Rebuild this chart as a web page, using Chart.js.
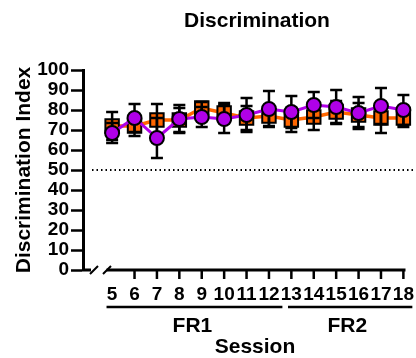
<!DOCTYPE html>
<html>
<head>
<meta charset="utf-8">
<script src="https://cdn.jsdelivr.net/npm/chart.js@4"></script>
<style>
  html, body { margin: 0; padding: 0; background: #fff; }
  #wrap { width: 416px; height: 358px; }
</style>
</head>
<body>
<div id="wrap"><canvas id="chart" width="416" height="358"></canvas></div>
<script>
const sessions = [5, 6, 7, 8, 9, 10, 11, 12, 13, 14, 15, 16, 17, 18];
const orangeMean = [72, 72, 75, 75, 81, 78.5, 76, 77, 75, 76.5, 79, 77.5, 76, 76];
const orangeErr = [7, 5, 8, 6, 3, 5, 6, 5, 6, 6.5, 5.5, 6, 7.5, 4.5];
const purpleMean = [68.5, 76, 66, 75.5, 76.5, 75.5, 77.5, 80.5, 79, 82.5, 81.5, 78.5, 82, 80];
const purpleErr = [5, 7, 10, 7, 5, 7, 8.5, 9, 8, 6.5, 8.5, 8, 9, 7.5];
const yTicks = [0, 10, 20, 30, 40, 50, 60, 70, 80, 90, 100];
const chanceLevel = 50;
const groups = [
  { label: "FR1", from: 4.75, to: 12.6 },
  { label: "FR2", from: 12.85, to: 18.4 },
];

const BOLD = "'Liberation Sans', Arial, Helvetica, sans-serif";

const orange = "#FF6600";
const purple = "#B000E8";

// error bars, dotted chance line and the broken x axis
const extras = {
  id: "extras",
  beforeDatasetsDraw(chart) {
    const { ctx, chartArea, scales } = chart;
    const y = scales.y.getPixelForValue(chanceLevel);
    ctx.save();
    ctx.strokeStyle = "#000";
    ctx.lineWidth = 2;
    ctx.setLineDash([1.5, 3]);
    ctx.beginPath();
    ctx.moveTo(chartArea.left + 9, y);
    ctx.lineTo(chart.width, y);
    ctx.stroke();
    ctx.restore();
  },
  beforeDatasetDraw(chart, args) {
    if (args.index !== 1) return;
    const { ctx, scales } = chart;
    ctx.save();
    ctx.strokeStyle = "#000";
    ctx.lineWidth = 2.5;
    const bars = [[orangeMean, orangeErr], [purpleMean, purpleErr]];
    bars.forEach(([means, errs]) => {
      sessions.forEach((s, i) => {
        const x = scales.x.getPixelForValue(s);
        const top = scales.y.getPixelForValue(means[i] + errs[i]);
        const bot = scales.y.getPixelForValue(means[i] - errs[i]);
        ctx.beginPath();
        ctx.moveTo(x, top); ctx.lineTo(x, bot);
        ctx.moveTo(x - 6, top); ctx.lineTo(x + 6, top);
        ctx.moveTo(x - 6, bot); ctx.lineTo(x + 6, bot);
        ctx.stroke();
      });
    });
    ctx.restore();
  },
  afterDraw(chart) {
    const { ctx, chartArea, scales } = chart;
    const xs = scales.x;
    const base = chartArea.bottom;
    ctx.save();
    ctx.strokeStyle = "#000";
    ctx.fillStyle = "#000";
    ctx.lineWidth = 3;
    ctx.lineCap = "butt";

    // short stub, break marks, then the main axis
    ctx.beginPath();
    ctx.moveTo(chartArea.left - 1, base);
    ctx.lineTo(chartArea.left + 8, base);
    ctx.moveTo(xs.getPixelForValue(4.75), base);
    ctx.lineTo(chartArea.right + 1, base);
    ctx.stroke();

    ctx.lineWidth = 2;
    ctx.beginPath();
    ctx.moveTo(chartArea.left + 7, base + 4);
    ctx.lineTo(chartArea.left + 15, base - 4);
    ctx.moveTo(chartArea.left + 20, base + 4);
    ctx.lineTo(chartArea.left + 28, base - 4);
    ctx.stroke();

    ctx.lineWidth = 2.5;
    ctx.beginPath();
    sessions.slice(1).forEach((s) => {
      const x = xs.getPixelForValue(s);
      ctx.moveTo(x, base);
      ctx.lineTo(x, base + 9);
    });
    ctx.stroke();

    // group brackets
    ctx.lineWidth = 2.5;
    ctx.font = "bold 21px " + BOLD;
    ctx.textAlign = "center";
    ctx.textBaseline = "middle";
    groups.forEach((g) => {
      const x1 = xs.getPixelForValue(g.from);
      const x2 = xs.getPixelForValue(g.to);
      ctx.beginPath();
      ctx.moveTo(x1, 307);
      ctx.lineTo(x2, 307);
      ctx.stroke();
      const cx = g.label === "FR2" ? xs.getPixelForValue(15.5) : (x1 + x2) / 2 - 2;
      ctx.fillText(g.label, cx, 326);
    });
    ctx.fillText("Session", 255, 347);
    ctx.fillText("Discrimination", 257, 21);
    ctx.restore();
  },
};

new Chart(document.getElementById("chart"), {
  type: "line",
  data: {
    datasets: [
      {
        label: "Orange",
        data: sessions.map((s, i) => ({ x: s, y: orangeMean[i] })),
        borderColor: orange,
        borderWidth: 3.5,
        pointStyle: "rect",
        pointRadius: 9.5,
        pointBackgroundColor: orange,
        pointBorderColor: "#000",
        pointBorderWidth: 2,
        order: 1,
        clip: false,
      },
      {
        label: "Purple",
        data: sessions.map((s, i) => ({ x: s, y: purpleMean[i] })),
        borderColor: purple,
        borderWidth: 3,
        pointStyle: "circle",
        pointRadius: 7,
        pointBackgroundColor: purple,
        pointBorderColor: "#000",
        pointBorderWidth: 2,
        order: 0,
        clip: false,
      },
    ],
  },
  options: {
    responsive: false,
    animation: false,
    layout: { padding: { top: 70, right: 9, left: 0, bottom: 0 } },
    plugins: {
      legend: { display: false },
      title: { display: false },
      tooltip: { enabled: false },
    },
    scales: {
      x: {
        type: "linear",
        min: 3.7,
        max: 18.05,
        grid: { display: false },
        border: { display: false },
        afterBuildTicks(scale) {
          scale.ticks = sessions.map((v) => ({ value: v }));
        },
        afterFit(scale) {
          scale.height = 88;
          scale.paddingLeft = 0;
          scale.paddingRight = 0;
        },
        ticks: {
          autoSkip: false,
          maxRotation: 0,
          padding: 5,
          color: "#000",
          font: { family: BOLD, size: 19, weight: "bold" },
          callback: (v) => String(v),
        },
      },
      y: {
        min: 0,
        max: 100,
        afterBuildTicks(scale) {
          scale.ticks = yTicks.map((v) => ({ value: v }));
        },
        afterFit(scale) {
          scale.width = 83;
        },
        grid: {
          drawOnChartArea: false,
          tickLength: 12,
          tickWidth: 2.5,
          tickColor: "#000",
        },
        border: { display: true, color: "#000", width: 3 },
        ticks: {
          autoSkip: false,
          padding: 2,
          color: "#000",
          font: { family: BOLD, size: 19, weight: "bold" },
        },
        title: {
          display: true,
          text: "Discrimination Index",
          color: "#000",
          padding: { top: 12, bottom: 0 },
          font: { family: BOLD, size: 21, weight: "bold" },
        },
      },
    },
  },
  plugins: [extras],
});
</script>
</body>
</html>
